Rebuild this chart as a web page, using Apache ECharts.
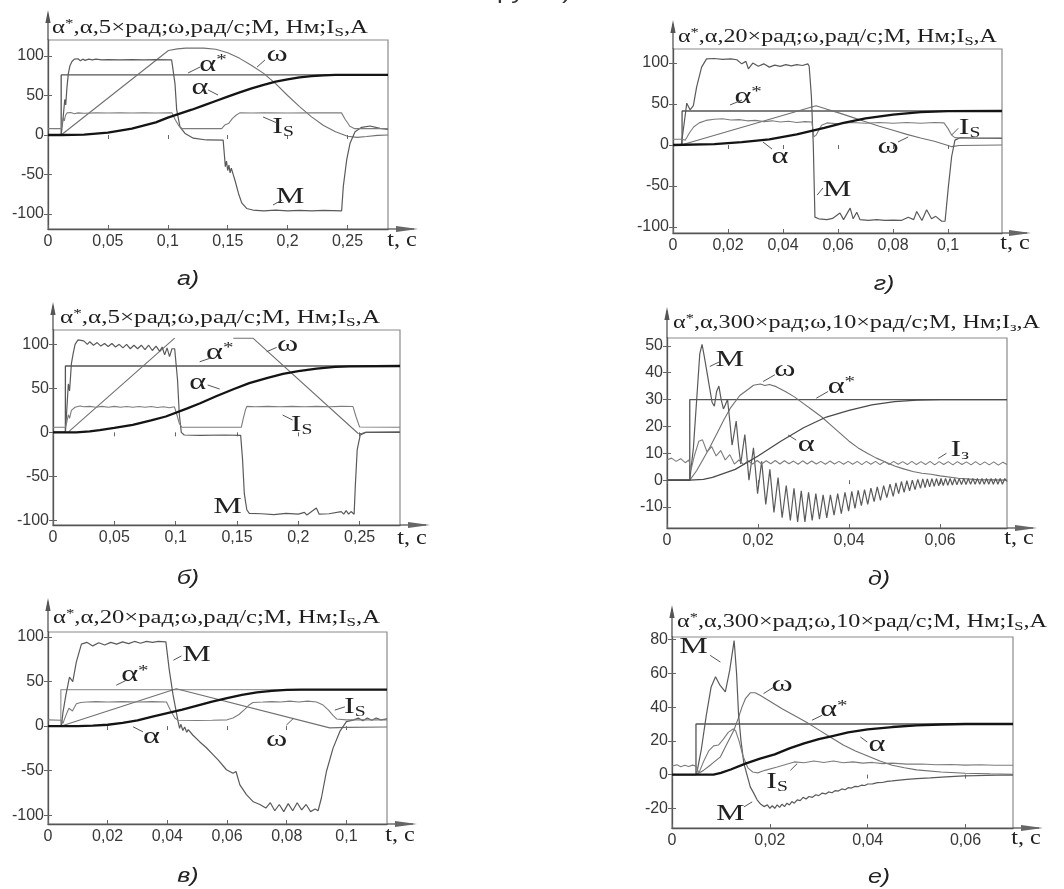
<!DOCTYPE html>
<html><head><meta charset="utf-8">
<script src="https://cdn.jsdelivr.net/npm/echarts@6/dist/echarts.min.js"></script>
<style>html,body{margin:0;padding:0;background:#fff}#c{width:1064px;height:889px}</style>
</head><body><div id="c"></div>
<script>
// ---------------- tick values ----------------
const xTicks_a = [0, 0.05, 0.1, 0.15, 0.2, 0.25];
const yTicks_a = [-100, -50, 0, 50, 100];
const xTicks_g = [0, 0.02, 0.04, 0.06, 0.08, 0.1];
const yTicks_g = [-100, -50, 0, 50, 100];
const xTicks_b = [0, 0.05, 0.1, 0.15, 0.2, 0.25];
const yTicks_b = [-100, -50, 0, 50, 100];
const xTicks_d = [0, 0.02, 0.04, 0.06];
const yTicks_d = [-10, 0, 10, 20, 30, 40, 50];
const xTicks_v = [0, 0.02, 0.04, 0.06, 0.08, 0.1];
const yTicks_v = [-100, -50, 0, 50, 100];
const xTicks_e = [0, 0.02, 0.04, 0.06];
const yTicks_e = [-20, 0, 20, 40, 60, 80];

// ---------------- panel а ----------------
const a_alphaStar = [[0,0],[0.011,0],[0.011,76],[0.2838,76]];
const a_alpha = [[0,0],[0.011,0],[0.03,0.5],[0.05,3],[0.07,8],[0.09,16],[0.1,22],[0.11,27],[0.12,32],[0.13,37.5],[0.14,43],[0.15,48.5],[0.16,54],[0.17,59],[0.18,63.5],[0.19,67.5],[0.2,70.5],[0.21,73],[0.22,74.5],[0.23,75.5],[0.24,76],[0.2838,76]];
const a_omega = [[0,0],[0.011,0],[0.1005,107],[0.108,109],[0.115,110],[0.13,110],[0.14,108.5],[0.15,104],[0.16,97],[0.17,88],[0.18,78],[0.19,65],[0.2,50],[0.21,36],[0.22,23],[0.23,12],[0.24,4],[0.25,-1.5],[0.258,-3],[0.266,-2],[0.275,-0.5],[0.2838,0]];
const a_M = [[0,0],[0.011,0],[0.0125,20],[0.014,45],[0.0148,38],[0.0158,60],[0.017,78],[0.0184,88],[0.02,93],[0.021,91],[0.022,96],[0.0235,93.5],[0.025,96.5],[0.027,94],[0.029,96],[0.031,94.5],[0.034,96],[0.037,95],[0.04,96],[0.045,95],[0.05,95.5],[0.06,95],[0.07,95.5],[0.08,95],[0.09,95.5],[0.1032,95],[0.106,65],[0.1074,32],[0.1102,10],[0.1144,2],[0.1213,-4],[0.1324,-6.3],[0.1462,-6.5],[0.1475,-30],[0.148,-40],[0.149,-33],[0.15,-45],[0.151,-38],[0.152,-48],[0.153,-42],[0.155,-52],[0.156,-57],[0.159,-74],[0.1617,-86],[0.1658,-93],[0.171,-95],[0.18,-96],[0.19,-95],[0.2,-96],[0.21,-95.5],[0.22,-96],[0.23,-95.5],[0.2451,-96],[0.2465,-65],[0.2493,-31.6],[0.2521,-10.5],[0.2563,4.2],[0.2618,9.7],[0.2688,11.4],[0.2771,8.4],[0.2838,7.2]];
const a_Is = [[0,8],[0.011,8],[0.0118,14],[0.0128,22],[0.0136,18],[0.0146,25],[0.016,28],[0.0175,25.5],[0.019,28.5],[0.022,27],[0.025,28],[0.03,27.5],[0.04,28],[0.05,27.8],[0.06,28],[0.07,27.8],[0.08,28],[0.09,27.8],[0.1035,28],[0.106,20],[0.109,12],[0.112,8],[0.145,8],[0.1475,12.5],[0.149,11.5],[0.151,15],[0.154,21],[0.157,25],[0.16,28],[0.17,27.8],[0.18,28],[0.2,27.8],[0.22,28],[0.245,28],[0.248,20],[0.252,11],[0.256,8],[0.2838,8]];
const a_labels = [[0.1377,88.6,'alphaStar'],[0.1912,101.3,'omega'],[0.1269,59.5,'alpha'],[0.1962,10,'Is'],[0.202,-78.5,'M']];
const a_leaders = [[0.1169,78.5,0.1269,86],[0.1745,86,0.1811,95],[0.1336,57,0.1419,50.6],[0.1795,22.8,0.1912,15.2],[0.1878,-88.6,0.1953,-82.3]];

// ---------------- panel г ----------------
const g_alphaStar = [[0,0],[0.0033,0],[0.0033,41.5],[0.1196,41.5]];
const g_alpha = [[0,0],[0.015,1],[0.025,3.5],[0.035,7],[0.045,13],[0.055,21],[0.062,27],[0.07,32.5],[0.08,37],[0.09,40],[0.1,41.3],[0.1196,41.5]];
const g_omega = [[0,0],[0.003,0],[0.052,48],[0.056,43.5],[0.06,39.5],[0.065,34],[0.07,28.5],[0.075,23],[0.08,18],[0.085,13],[0.09,8.5],[0.095,4.5],[0.1,-0.5],[0.1013,-2],[0.104,-0.5],[0.1196,0]];
const g_M = [[0,0],[0.003,0],[0.004,25],[0.005,51],[0.0062,43],[0.0074,48],[0.0086,71],[0.0104,95],[0.0122,105],[0.015,105.5],[0.018,104.5],[0.021,105],[0.0232,104],[0.025,99],[0.0265,102],[0.0274,93],[0.029,100],[0.031,96],[0.033,99],[0.035,95],[0.037,97.5],[0.039,96],[0.041,98],[0.043,96.5],[0.045,98],[0.047,97],[0.049,99],[0.0495,96],[0.0503,60],[0.051,0],[0.0516,-88],[0.053,-90],[0.056,-91],[0.058,-89.5],[0.0607,-83],[0.062,-91],[0.0644,-77],[0.0655,-90],[0.0668,-82],[0.068,-91],[0.071,-92],[0.074,-91],[0.077,-92],[0.08,-91.5],[0.083,-92],[0.0855,-88],[0.0875,-91],[0.0886,-81],[0.0905,-92],[0.0922,-79],[0.094,-90],[0.0955,-87],[0.0977,-93],[0.0989,-93],[0.1001,-51],[0.1013,-14],[0.1025,6],[0.1044,9],[0.11,8.5],[0.1196,8]];
const g_Is = [[0,7],[0.003,7],[0.0045,6],[0.006,15],[0.0075,22],[0.0095,27],[0.012,30],[0.015,31.5],[0.018,32],[0.021,30.5],[0.024,31],[0.027,29.5],[0.03,30],[0.033,28.5],[0.036,29.5],[0.039,28],[0.042,29],[0.045,27.5],[0.048,28.5],[0.0505,28],[0.0512,10],[0.052,12],[0.053,18],[0.054,24],[0.056,27],[0.06,26],[0.065,27.5],[0.07,26.5],[0.075,27.5],[0.08,26.5],[0.085,27.5],[0.09,26.5],[0.095,27.5],[0.0985,27],[0.1,20],[0.1013,12],[0.1025,9],[0.105,8.5],[0.1196,8.5]];
const g_labels = [[0.0273,58.5,'alphaStar'],[0.0389,-14.6,'alpha'],[0.0782,-2.4,'omega'],[0.1078,20.7,'Is'],[0.0596,-54.9,'M']];
const g_leaders = [[0.0207,48.8,0.0251,54.9],[0.0327,3.7,0.036,-4.9],[0.0818,3.7,0.0855,9.8],[0.1013,12.2,0.1037,20.4],[0.0524,-61,0.0545,-52.4]];

// ---------------- panel б ----------------
const b_alphaStar = [[0,0],[0.0101,0],[0.0101,75.4],[0.2829,75.4]];
const b_alpha = [[0,0],[0.019,0],[0.03,1],[0.038,2.5],[0.05,5],[0.065,8.5],[0.08,13.5],[0.092,18],[0.109,27],[0.12,33],[0.133,41],[0.147,49],[0.16,56],[0.175,62],[0.1875,66.5],[0.2,69.5],[0.215,72.5],[0.23,74.3],[0.242,75],[0.2829,75.4]];
// the flat top of ω is mostly invisible in the source picture ('-' leaves that stretch undrawn)
const b_omega = [[0,0],[0.0122,0],[0.0992,107],[0.12,'-'],[0.147,107],[0.163,107],[0.2486,-1],[0.251,-1.5],[0.255,0],[0.2829,0.5]];
const b_M = [[0,0],[0.0101,0],[0.011,20],[0.0125,55],[0.0135,47],[0.015,78],[0.0165,90],[0.018,100],[0.0204,105],[0.022,103.5],[0.025,104],[0.028,100],[0.03,103],[0.033,99],[0.036,102],[0.039,98],[0.042,101],[0.045,97.5],[0.048,101],[0.051,97],[0.054,100],[0.057,96],[0.06,100],[0.063,95],[0.066,99],[0.069,95],[0.072,99],[0.075,94],[0.078,99],[0.081,93],[0.084,98],[0.087,92],[0.089,97],[0.091,88],[0.093,96],[0.095,86],[0.097,95],[0.0992,95],[0.1015,60],[0.103,20],[0.1046,0],[0.107,-3],[0.12,-3.5],[0.14,-3],[0.153,-3.5],[0.1545,-30],[0.156,-70],[0.158,-88],[0.16,-92],[0.17,-92.5],[0.18,-93.5],[0.19,-92],[0.2,-93],[0.205,-91],[0.207,-94],[0.2147,-86],[0.217,-93],[0.225,-92.5],[0.235,-90],[0.237,-93],[0.239,-89],[0.241,-93],[0.243,-90],[0.2455,-93],[0.2465,-60],[0.248,-20],[0.2505,-3],[0.255,0],[0.2829,0]];
const b_Is = [[0,5.7],[0.0101,5.7],[0.011,10],[0.0125,20],[0.0135,16],[0.015,25],[0.018,28.5],[0.022,30],[0.025,29],[0.03,29.5],[0.035,28.5],[0.04,29.5],[0.045,28.5],[0.05,29.5],[0.055,28.5],[0.06,29.3],[0.065,28.5],[0.07,29.3],[0.075,28.5],[0.08,29.3],[0.085,28.3],[0.09,29],[0.095,28],[0.099,29],[0.101,20],[0.103,10],[0.105,5.7],[0.1535,5.7],[0.155,15],[0.157,26],[0.158,29.5],[0.165,29],[0.175,29.5],[0.185,29],[0.195,29.5],[0.205,29],[0.215,29.5],[0.225,29],[0.235,29.5],[0.2446,29.3],[0.247,18],[0.25,6],[0.2829,5.7]];
const b_labels = [[0.1359,90.1,'alphaStar'],[0.1913,99.2,'omega'],[0.118,56,'alpha'],[0.2027,8.3,'Is'],[0.1424,-84.9,'M']];
const b_leaders = [[0.1196,80.2,0.1278,84.1],[0.1742,91.6,0.1824,96.6],[0.1261,53.8,0.1359,49.2],[0.1872,19.7,0.1954,14]];

// ---------------- panel д ----------------
const d_alphaStar = [[0,0],[0.005,0],[0.005,30],[0.0747,30]];
const d_alpha = [[0,0],[0.005,0],[0.008,0.3],[0.01,1],[0.015,4],[0.02,9],[0.025,14.5],[0.03,19.5],[0.035,23.5],[0.04,26],[0.045,28],[0.05,29.2],[0.055,29.8],[0.06,30],[0.0747,30]];
const d_omega = [[0,0],[0.005,0],[0.0065,3.5],[0.008,8],[0.0095,12.5],[0.011,17.5],[0.0125,22.5],[0.014,27],[0.016,31.5],[0.018,34],[0.019,35.3],[0.0205,35.8],[0.0215,35.2],[0.0225,35.6],[0.024,34.8],[0.026,33],[0.028,31],[0.03,28.5],[0.032,26],[0.034,23.5],[0.036,20.5],[0.038,17.5],[0.04,14.5],[0.042,12],[0.044,10],[0.046,8.2],[0.048,6.8],[0.05,5.3],[0.052,4.2],[0.054,3.2],[0.056,2.6],[0.058,2.2],[0.06,1.6],[0.064,0.7],[0.068,0.2],[0.0747,0]];
const d_M = [[0,0],[0.005,0],[0.0058,12],[0.0066,32],[0.0072,47],[0.0077,50.5],[0.0082,46],[0.0088,40],[0.0094,34],[0.0099,29],[0.0104,27.5],[0.0109,33],[0.0114,35],[0.0119,30],[0.0124,26.5],[0.0128,28],[0.0133,30],[0.0138,22],[0.0143,13],[0.0148,18],[0.0152,22],[0.0157,13],[0.0162,6],[0.0166,11],[0.0171,17],[0.0176,8],[0.018,0],[0.0185,6],[0.019,12],[0.0199,-5],[0.0208,7],[0.0217,-9],[0.0226,4],[0.0235,-12],[0.0244,1],[0.0253,-14],[0.0262,-2],[0.0271,-15],[0.0279,-3],[0.0287,-15.5],[0.0295,-4],[0.0303,-15.5],[0.0311,-4.5],[0.0319,-15],[0.0327,-5],[0.0335,-14.5],[0.0343,-5.5],[0.0351,-14],[0.0359,-5.5],[0.0367,-13],[0.0375,-5],[0.0383,-12.5],[0.0391,-4.5],[0.0399,-11.5],[0.0406,-4.2],[0.0413,-10.5],[0.042,-3.8],[0.0427,-9.5],[0.0434,-3.5],[0.0441,-9],[0.0448,-3],[0.0455,-8],[0.0462,-2.5],[0.0469,-7.5],[0.0476,-2],[0.0483,-6.5],[0.049,-1.5],[0.0497,-6],[0.0503,-1],[0.0509,-5],[0.0515,-0.5],[0.0521,-4.5],[0.0527,-0.2],[0.0533,-4],[0.0539,0],[0.0545,-3.5],[0.0551,0.3],[0.0557,-3],[0.0562,0.5],[0.0567,-2.8],[0.0572,0.5],[0.0577,-2.5],[0.0582,0.6],[0.0587,-2.3],[0.0592,0.6],[0.0597,-2.1],[0.0602,0.6],[0.0607,-2],[0.0612,0.6],[0.0617,-1.9],[0.0622,0.6],[0.0627,-1.8],[0.0632,0.6],[0.0637,-1.7],[0.0642,0.6],[0.0647,-1.6],[0.0652,0.6],[0.0657,-1.6],[0.0662,0.6],[0.0667,-1.5],[0.0672,0.6],[0.0677,-1.5],[0.0682,0.6],[0.0687,-1.5],[0.0692,0.6],[0.0697,-1.5],[0.0702,0.6],[0.0707,-1.5],[0.0712,0.6],[0.0717,-1.5],[0.0722,0.6],[0.0727,-1.5],[0.0732,0.6],[0.0737,-1.5],[0.0742,0.6],[0.0747,-0.5]];
const d_Is = [[0,7.5],[0.001,8.2],[0.002,7],[0.003,8],[0.004,6.5],[0.0048,7.5],[0.0053,4],[0.006,9],[0.007,14.5],[0.0078,15],[0.0088,10.5],[0.0098,12.5],[0.0108,9],[0.0118,11],[0.0128,7.5],[0.0138,9.5],[0.0148,6],[0.0158,7.5],[0.0168,5.8],[0.0178,7.2],[0.0188,6],[0.0198,7.3],[0.0208,6],[0.0218,7.2],[0.0228,6.1],[0.0238,7.3],[0.0248,6],[0.0258,7.2],[0.0268,6.1],[0.0278,7.1],[0.0288,5.9],[0.0298,7.2],[0.0308,6],[0.0318,7.1],[0.0328,6],[0.0338,7],[0.0348,5.9],[0.0358,7.1],[0.0368,6],[0.0378,7],[0.0388,5.9],[0.0398,7],[0.0408,5.9],[0.0418,7],[0.0428,5.8],[0.0438,7],[0.0448,5.9],[0.0458,7],[0.0468,5.8],[0.0478,6.9],[0.0488,5.8],[0.0498,7],[0.0508,5.9],[0.0518,6.9],[0.0528,5.8],[0.0538,7],[0.0548,5.8],[0.0558,6.9],[0.0568,5.8],[0.0578,7],[0.0588,5.7],[0.0598,6.9],[0.0608,5.8],[0.0618,6.9],[0.0628,5.7],[0.0638,6.9],[0.0648,5.8],[0.0658,6.8],[0.0668,5.7],[0.0678,6.9],[0.0688,5.7],[0.0698,6.8],[0.0708,5.7],[0.0718,6.8],[0.0728,5.6],[0.0738,6.7],[0.0747,5.8]];
const d_labels = [[0.0138,44.8,'M'],[0.0259,41,'omega'],[0.0383,34.8,'alphaStar'],[0.0306,13,'alpha'],[0.0643,11.2,'Iz']];
const d_leaders = [[0.0094,42.3,0.0116,44.1],[0.0211,36.7,0.0237,39.2],[0.0328,30.5,0.0354,33],[0.0266,16.8,0.0284,14.9],[0.0596,8.1,0.0614,10]];

// ---------------- panel в ----------------
const v_alphaStar = [[0,0],[0.0043,0],[0.0043,41],[0.1136,41]];
const v_alpha = [[0,0],[0.01,0],[0.015,0.5],[0.02,1.5],[0.025,3.5],[0.03,6.5],[0.035,10.5],[0.04,14.5],[0.045,18.5],[0.05,23],[0.055,27.5],[0.06,31.5],[0.065,35],[0.07,37.8],[0.075,39.6],[0.08,40.6],[0.085,41],[0.1136,41]];
const v_omega = [[0,0],[0.0045,0],[0.043,42],[0.0944,-2],[0.1,-1.5],[0.1136,-1]];
const v_M = [[0,0],[0.0045,0],[0.005,15],[0.006,35],[0.0072,55],[0.0083,50],[0.0095,72],[0.0112,92],[0.013,94],[0.015,90],[0.017,93.5],[0.019,91],[0.021,94],[0.023,92],[0.025,94.5],[0.027,92.5],[0.029,95],[0.031,93],[0.033,95],[0.035,94],[0.037,95],[0.0395,94.5],[0.0406,64],[0.0419,35],[0.0436,5],[0.0441,-2.6],[0.0445,2],[0.0452,-5],[0.0458,-1],[0.0465,-7],[0.047,-4],[0.0485,-10],[0.0508,-17.5],[0.053,-24],[0.0553,-32],[0.057,-38],[0.0598,-49],[0.062,-53],[0.063,-51],[0.0643,-66],[0.0665,-77],[0.0688,-85],[0.071,-88],[0.073,-92],[0.0745,-86],[0.076,-95],[0.0775,-88],[0.079,-96],[0.0805,-87],[0.082,-95],[0.0835,-86],[0.085,-94],[0.0865,-88],[0.088,-96],[0.0895,-93],[0.0905,-95],[0.0916,-81],[0.0933,-51],[0.0955,-25],[0.0978,-6],[0.1,5],[0.1022,6.7],[0.104,9],[0.1055,6],[0.107,9],[0.1085,6.5],[0.11,9],[0.1115,7],[0.1136,8]];
const v_Is = [[0,7],[0.0045,6.5],[0.005,3],[0.006,12],[0.007,20],[0.0082,17],[0.0095,25],[0.011,26.5],[0.013,27],[0.016,27.5],[0.02,27],[0.025,27.5],[0.03,27],[0.035,27.5],[0.0397,27],[0.041,18],[0.0425,9],[0.0436,6.5],[0.05,6.3],[0.055,6.5],[0.06,7],[0.062,9],[0.064,13],[0.066,19],[0.0675,24],[0.0687,26.5],[0.072,27],[0.075,27.5],[0.078,27],[0.081,28],[0.084,27],[0.087,28],[0.09,27],[0.092,24],[0.094,18],[0.0955,12],[0.0967,8],[0.1,7],[0.1136,7]];
const v_labels = [[0.0498,79.5,'M'],[0.0291,57.1,'alphaStar'],[0.1028,21.6,'Is'],[0.0347,-12,'alpha'],[0.0766,-15.7,'omega']];
const v_leaders = [[0.042,73.9,0.0447,78.7],[0.0229,45.9,0.0263,51.5],[0.0961,17.9,0.0995,21.6],[0.0285,-0.8,0.0318,-6.4],[0.0799,1.1,0.0822,8.6]];

// ---------------- panel е ----------------
const e_alphaStar = [[0,0],[0.0049,0],[0.0049,30],[0.0697,30]];
const e_alpha = [[0,0],[0.0085,0],[0.01,1],[0.012,3],[0.015,6.5],[0.018,9.5],[0.021,12],[0.024,15.5],[0.027,18.5],[0.03,21],[0.033,23],[0.036,25],[0.04,26.8],[0.045,28.2],[0.05,29.2],[0.055,29.7],[0.06,30],[0.0697,30]];
const e_omega = [[0,0],[0.005,0],[0.0065,2.6],[0.008,6],[0.0099,10.5],[0.011,17],[0.0126,26],[0.0135,33],[0.0143,40],[0.015,45],[0.016,48.5],[0.017,48.5],[0.018,47],[0.02,43.5],[0.0225,39],[0.025,35],[0.0275,31],[0.03,26.5],[0.0325,22],[0.035,17.5],[0.0375,14],[0.04,11],[0.0425,8],[0.045,5.5],[0.0475,4],[0.05,2.8],[0.055,1.5],[0.06,0.8],[0.065,0.4],[0.0697,0.2]];
const e_M = [[0,0],[0.005,0],[0.006,15],[0.007,35],[0.008,52],[0.0089,58],[0.0098,53],[0.0109,49],[0.0118,62],[0.0127,79.5],[0.0132,60],[0.0136,36],[0.0141,20],[0.0147,6.5],[0.016,-7.3],[0.0167,-11],[0.0174,-15],[0.0181,-17.5],[0.0188,-19],[0.0195,-18],[0.02,-20],[0.0205,-18.5],[0.021,-20],[0.0215,-18],[0.022,-19.5],[0.0225,-17.5],[0.023,-19],[0.0235,-17],[0.024,-18],[0.0245,-16],[0.025,-17],[0.0256,-15],[0.0262,-15.5],[0.0268,-13.5],[0.0274,-14.5],[0.028,-13],[0.0287,-13.5],[0.0294,-12],[0.03,-12.5],[0.0307,-11],[0.0314,-11.5],[0.032,-10.3],[0.0327,-10.8],[0.0334,-9.5],[0.034,-9.8],[0.0347,-8.5],[0.0354,-9],[0.036,-7.8],[0.0367,-8],[0.0374,-7],[0.038,-7.2],[0.0387,-6.3],[0.0394,-6.5],[0.04,-5.6],[0.041,-5.5],[0.042,-4.8],[0.043,-4.7],[0.044,-4],[0.045,-3.8],[0.046,-3.4],[0.048,-2.8],[0.05,-2.4],[0.0528,-2],[0.056,-1.4],[0.0597,-0.8],[0.0665,-0.4],[0.0697,-0.3]];
const e_Is = [[0,5],[0.001,5.8],[0.0018,4.6],[0.0026,5.5],[0.0034,4.8],[0.0042,5.6],[0.0049,5],[0.0055,1],[0.0065,8],[0.0075,14],[0.0085,17],[0.0095,17.5],[0.0105,21],[0.0115,25],[0.0125,27],[0.013,26],[0.0137,20],[0.0145,11],[0.0155,4],[0.0165,1.5],[0.0175,1],[0.019,2.5],[0.0215,4.5],[0.025,7.5],[0.027,7],[0.029,8],[0.031,7.2],[0.033,8],[0.035,7],[0.037,7.5],[0.039,6.8],[0.041,7.2],[0.043,6.5],[0.045,6.8],[0.048,6.2],[0.051,6.3],[0.054,5.8],[0.057,6],[0.06,5.6],[0.063,5.8],[0.066,5.5],[0.0697,5.5]];
const e_labels = [[0.0044,75.6,'M'],[0.0225,52.9,'omega'],[0.0331,38.1,'alphaStar'],[0.0419,17.4,'alpha'],[0.0215,-4.4,'Is'],[0.0119,-23.1,'M']];
const e_leaders = [[0.0078,70.7,0.0099,66.7],[0.0187,48,0.0208,51.9],[0.0286,32.2,0.0307,35.2],[0.0385,22.3,0.0399,19.3],[0.0242,2.5,0.0256,6.5],[0.0147,-19.2,0.0164,-16.2]];

// ---------------- texts ----------------
const TITLE_5 = [['α','t'],['*','sp'],[',α,5×рад;ω,рад/с;M, Нм;I','t'],['S','sb'],[',A','t']];
const TITLE_20 = [['α','t'],['*','sp'],[',α,20×рад;ω,рад/с;M, Нм;I','t'],['S','sb'],[',A','t']];
const TITLE_300z = [['α','t'],['*','sp'],[',α,300×рад;ω,10×рад/с;M, Нм;I','t'],['з','sb'],[',A','t']];
const TITLE_300s = [['α','t'],['*','sp'],[',α,300×рад;ω,10×рад/с;M, Нм;I','t'],['S','sb'],[',A','t']];
const CURVE_TEXT = {alphaStar:'{m|α}{sp|*}', alpha:'{m|α}', omega:'{m|ω}', M:'{m|M}', Is:'{m|I}{sb|S}', Iz:'{m|I}{sb|з}'};
const CAPTIONS = ['а)', 'г)', 'б)', 'д)', 'в)', 'е)'];

// ---------------- layout (pixels) ----------------
const PANELS = [
  {left:48, top:40, width:340, height:189, xMax:0.2838, yMin:-119, yMax:120.25, xT:xTicks_a, yT:yTicks_a,
   c:{alphaStar:a_alphaStar, omega:a_omega, M:a_M, Is:a_Is, alpha:a_alpha}, lab:a_labels, lead:a_leaders,
   title:TITLE_5, tPos:[52,28], tW:316, cap:[188,279], tc:[402,240], arrowTop:10, arrowRight:418, sty:{}},
  {left:673, top:49, width:329, height:184, xMax:0.1196, yMin:-107.3, yMax:117.1, xT:xTicks_g, yT:yTicks_g,
   c:{alphaStar:g_alphaStar, omega:g_omega, M:g_M, Is:g_Is, alpha:g_alpha}, lab:g_labels, lead:g_leaders,
   title:TITLE_20, tPos:[678,37], tW:319, cap:[884,284], tc:[1015,243], arrowTop:20, arrowRight:1031, sty:{}},
  {left:53, top:330, width:347, height:195, xMax:0.2829, yMin:-105.3, yMax:116.3, xT:xTicks_b, yT:yTicks_b,
   c:{alphaStar:b_alphaStar, omega:b_omega, M:b_M, Is:b_Is, alpha:b_alpha}, lab:b_labels, lead:b_leaders,
   title:TITLE_5, tPos:[60,318], tW:320, cap:[188,578], tc:[412,538], arrowTop:302, arrowRight:430, sty:{}},
  {left:667, top:338, width:340, height:190, xMax:0.0747, yMin:-17.8, yMax:52.9, xT:xTicks_d, yT:yTicks_d,
   c:{alphaStar:d_alphaStar, omega:d_omega, M:d_M, Is:d_Is, alpha:d_alpha}, lab:d_labels, lead:d_leaders,
   title:TITLE_300z, tPos:[673,323], tW:367, cap:[879,579], tc:[1019,538], arrowTop:307, arrowRight:1037,
   sty:{alpha:{color:'#4a4a4a', width:1.3}}},
  {left:48, top:632, width:339, height:192, xMax:0.1136, yMin:-109.9, yMax:105.6, xT:xTicks_v, yT:yTicks_v,
   c:{alphaStar:v_alphaStar, omega:v_omega, M:v_M, Is:v_Is, alpha:v_alpha}, lab:v_labels, lead:v_leaders,
   title:TITLE_20, tPos:[53,618], tW:327, cap:[188,876], tc:[400,835], arrowTop:598, arrowRight:417,
   sty:{alphaStar:{color:'#9c9c9c', width:1.3}}},
  {left:672, top:637, width:341, height:191, xMax:0.0697, yMin:-31.7, yMax:81.6, xT:xTicks_e, yT:yTicks_e,
   c:{alphaStar:e_alphaStar, omega:e_omega, M:e_M, Is:e_Is, alpha:e_alpha}, lab:e_labels, lead:e_leaders,
   title:TITLE_300s, tPos:[677,622], tW:370, cap:[879,877], tc:[1026,838], arrowTop:605, arrowRight:1043, sty:{}}
];

const SERIF = '"Liberation Serif", "Times New Roman", serif';
const SANS = '"Liberation Sans", Arial, sans-serif';
const ORDER = ['alphaStar', 'omega', 'M', 'Is', 'alpha'];
const STYLE = {alphaStar:{color:'#555', width:1.3}, omega:{color:'#707070', width:1.1}, M:{color:'#5a5a5a', width:1.2}, Is:{color:'#7c7c7c', width:1.1}, alpha:{color:'#141414', width:2.3}};

function fmtX(v){ return v === 0 ? '0' : String(parseFloat(v.toFixed(3))).replace('.', ','); }

const grids = [], xAxes = [], yAxes = [], series = [];
PANELS.forEach((p, i) => {
  grids.push({left:p.left, top:p.top, width:p.width, height:p.height, show:true, borderColor:'#8a8a8a', borderWidth:1.2});
  const tick = {show:true, inside:true, length:4, lineStyle:{color:'#666', width:1}};
  xAxes.push({type:'value', gridIndex:i, min:0, max:p.xMax, position:'bottom',
    axisLine:{show:true, onZero:false, lineStyle:{color:'#555', width:1.3}},
    axisTick:Object.assign({customValues:p.xT}, tick),
    axisLabel:{customValues:p.xT, formatter:fmtX, fontSize:16, fontFamily:SANS, color:'#383838', margin:5},
    splitLine:{show:false}});
  xAxes.push({type:'value', gridIndex:i, min:0, max:p.xMax, position:'top',
    axisLine:{show:false}, axisTick:Object.assign({customValues:p.xT}, tick), axisLabel:{show:false}, splitLine:{show:false}});
  yAxes.push({type:'value', gridIndex:i, min:p.yMin, max:p.yMax, position:'left',
    axisLine:{show:true, onZero:false, lineStyle:{color:'#555', width:1.3}},
    axisTick:Object.assign({customValues:p.yT}, tick),
    axisLabel:{customValues:p.yT, fontSize:16, fontFamily:SANS, color:'#383838', margin:4},
    splitLine:{show:false}});
  yAxes.push({type:'value', gridIndex:i, min:p.yMin, max:p.yMax, position:'right',
    axisLine:{show:false}, axisTick:Object.assign({customValues:p.yT}, tick), axisLabel:{show:false}, splitLine:{show:false}});
  ORDER.forEach(k => {
    const st = p.sty[k] || STYLE[k];
    series.push({type:'line', xAxisIndex:2*i, yAxisIndex:2*i, data:p.c[k], showSymbol:false, symbol:'none', connectNulls:false,
      lineStyle:{color:st.color, width:st.width}, silent:true, z:(k === 'alpha' ? 4 : 3)});
  });
});

const chart = echarts.init(document.getElementById('c'), null, {renderer:'canvas'});
chart.setOption({animation:false, backgroundColor:'#fff', grid:grids, xAxis:xAxes, yAxis:yAxes, series:series});

// ---------------- annotations ----------------
const measureCtx = document.createElement('canvas').getContext('2d');
const TITLE_SIZES = {t:19, sp:13, sb:13};
function titleWidth(parts){
  let w = 0;
  parts.forEach(([txt, k]) => { measureCtx.font = TITLE_SIZES[k] + 'px ' + SERIF; w += measureCtx.measureText(txt).width; });
  return w;
}
const titleRich = {
  t:{fontSize:19, fontFamily:SERIF, fill:'#1e1e1e', lineHeight:22, verticalAlign:'middle'},
  sp:{fontSize:13, fontFamily:SERIF, fill:'#1e1e1e', lineHeight:10, verticalAlign:'top'},
  sb:{fontSize:13, fontFamily:SERIF, fill:'#1e1e1e', lineHeight:8, verticalAlign:'bottom'}
};
const labelRich = {
  m:{fontSize:23, fontFamily:SERIF, fill:'#222', lineHeight:24, verticalAlign:'middle'},
  sp:{fontSize:15, fontFamily:SERIF, fill:'#222', lineHeight:11, verticalAlign:'top'},
  sb:{fontSize:14, fontFamily:SERIF, fill:'#222', lineHeight:9, verticalAlign:'bottom'}
};

const graphics = [];
// fragment of the figure caption above, cut off by the page edge
graphics.push({type:'text', x:497, y:3, scaleX:1.3, z:100, silent:true,
  style:{text:'рузки)', fontSize:20, fontFamily:SANS, fill:'#333', align:'left', verticalAlign:'bottom'}});

PANELS.forEach((p, i) => {
  const sIdx = i * ORDER.length;
  const right = p.left + p.width, bottom = p.top + p.height;
  graphics.push({type:'line', z:100, silent:true, shape:{x1:p.left, y1:p.top, x2:p.left, y2:p.arrowTop + 4}, style:{stroke:'#555', lineWidth:1.3}});
  graphics.push({type:'polygon', z:100, silent:true, shape:{points:[[p.left, p.arrowTop], [p.left - 2.6, p.arrowTop + 13], [p.left + 2.6, p.arrowTop + 13]]}, style:{fill:'#555'}});
  graphics.push({type:'line', z:100, silent:true, shape:{x1:right, y1:bottom, x2:p.arrowRight - 4, y2:bottom}, style:{stroke:'#555', lineWidth:1.3}});
  graphics.push({type:'polygon', z:100, silent:true, shape:{points:[[p.arrowRight, bottom], [p.arrowRight - 22, bottom - 3], [p.arrowRight - 22, bottom + 3]]}, style:{fill:'#666'}});
  const rich = p.title.map(([txt, k]) => '{' + k + '|' + txt + '}').join('');
  const sx = p.tW / titleWidth(p.title);
  graphics.push({type:'text', x:p.tPos[0], y:p.tPos[1], scaleX:sx, z:100, silent:true,
    style:{text:rich, rich:titleRich, align:'left', verticalAlign:'middle'}});
  graphics.push({type:'text', x:p.cap[0], y:p.cap[1], scaleX:1.25, z:100, silent:true,
    style:{text:CAPTIONS[i], fontSize:20, fontStyle:'italic', fontFamily:SANS, fill:'#222', align:'center', verticalAlign:'middle'}});
  graphics.push({type:'text', x:p.tc[0], y:p.tc[1], scaleX:1.15, z:100, silent:true,
    style:{text:'t, c', fontSize:21, fontFamily:SERIF, fill:'#222', align:'center', verticalAlign:'middle'}});
  p.lab.forEach(([t, v, key]) => {
    const pt = chart.convertToPixel({seriesIndex:sIdx}, [t, v]);
    graphics.push({type:'text', x:pt[0], y:pt[1], scaleX:1.4, z:110, silent:true,
      style:{text:CURVE_TEXT[key], rich:labelRich, align:'center', verticalAlign:'middle'}});
  });
  p.lead.forEach(([t1, v1, t2, v2]) => {
    const a = chart.convertToPixel({seriesIndex:sIdx}, [t1, v1]);
    const b = chart.convertToPixel({seriesIndex:sIdx}, [t2, v2]);
    graphics.push({type:'line', z:110, silent:true, shape:{x1:a[0], y1:a[1], x2:b[0], y2:b[1]}, style:{stroke:'#555', lineWidth:1}});
  });
});
chart.setOption({graphic:graphics});
</script></body></html>
